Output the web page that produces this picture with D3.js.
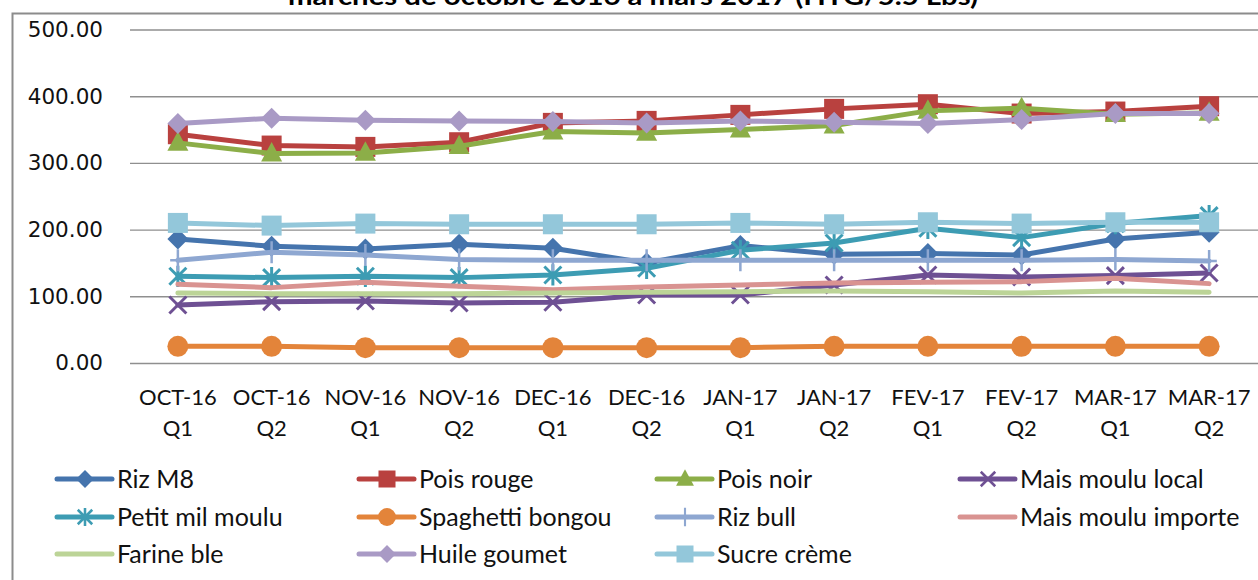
<!DOCTYPE html>
<html>
<head>
<meta charset="utf-8">
<script src="https://cdn.jsdelivr.net/npm/d3@7"></script>
<style>
  body { margin: 0; background: #fff; }
  svg { display: block; }
</style>
</head>
<body>
<svg id="chart" width="1258" height="580"></svg>
<script>
// categories (two-line labels)
const periods = ["OCT-16", "OCT-16", "NOV-16", "NOV-16", "DEC-16", "DEC-16", "JAN-17", "JAN-17", "FEV-17", "FEV-17", "MAR-17", "MAR-17"];
const quinzaines = ["Q1", "Q2", "Q1", "Q2", "Q1", "Q2", "Q1", "Q2", "Q1", "Q2", "Q1", "Q2"];
const yTicks = [0, 100, 200, 300, 400, 500];

const seriesNames = ["Riz M8", "Pois rouge", "Pois noir", "Mais moulu local", "Petit mil moulu", "Spaghetti bongou",
  "Riz bull", "Mais moulu importe", "Farine ble", "Huile goumet", "Sucre crème"];

const rizM8 = [186, 175, 171, 178, 172, 150, 176, 163, 164, 162, 186, 196];
const poisRouge = [343, 326, 324, 331, 360, 363, 372, 381, 388, 374, 377, 385];
const poisNoir = [330, 314, 315, 325, 347, 345, 350, 356, 378, 382, 373, 375];
const maisLocal = [87, 92, 93, 90, 91, 102, 102, 117, 132, 129, 131, 135];
const petitMil = [130, 128, 130, 128, 132, 142, 169, 180, 202, 188, 209, 221];
const spaghetti = [25, 25, 23, 23, 23, 23, 23, 25, 25, 25, 25, 25];
const rizBull = [154, 166, 162, 155, 154, 154, 154, 154, 154, 154, 155, 153];
const maisImporte = [118, 113, 121, 115, 110, 114, 117, 120, 121, 122, 127, 119];
const farineBle = [105, 104, 104, 104, 105, 106, 107, 108, 107, 105, 108, 106];
const huile = [359, 367, 364, 363, 362, 360, 363, 361, 359, 365, 374, 374];
const sucre = [210, 206, 209, 208, 208, 208, 210, 208, 211, 209, 211, 211];

const seriesValues = [rizM8, poisRouge, poisNoir, maisLocal, petitMil, spaghetti, rizBull, maisImporte, farineBle, huile, sucre];
const colors = ["#4574ad", "#b9413f", "#8cae48", "#6e5093", "#3d9cb3", "#e3843a", "#8ea7d1", "#d99391", "#bcd497", "#a99ac5", "#93c7da"];
const markers = ["diamond", "square", "triangle", "x", "star", "circle", "plus", "none", "none", "diamond", "square"];

const svg = d3.select("#chart");

const x = d3.scalePoint()
    .domain(d3.range(periods.length))
    .range([131, 1256])
    .padding(0.5);

const y = d3.scaleLinear()
    .domain([0, 500])
    .range([363, 29.5]);

// frame
svg.append("path")
    .attr("d", "M12.5,580 V13.5 H1258")
    .attr("fill", "none")
    .attr("stroke", "#8c8c8c")
    .attr("stroke-width", 2);

// title, cut at the top of the picture
svg.append("text")
    .attr("x", 633)
    .attr("y", 5)
    .attr("text-anchor", "middle")
    .attr("font-family", "Lato, sans-serif")
    .attr("font-weight", "bold")
    .attr("font-size", 24)
    .attr("textLength", 690)
    .attr("lengthAdjust", "spacingAndGlyphs")
    .text("marchés de octobre 2016 à mars 2017 (HTG/5.5 Lbs)");

// gridlines
const grid = svg.append("g")
    .attr("transform", "translate(130,0)")
    .call(d3.axisLeft(y).tickValues(yTicks).tickSize(-(1258 - 130)).tickFormat(""));
grid.select(".domain").remove();
grid.selectAll("line").attr("stroke", "#8f8f8f").attr("stroke-width", 1.4);

// y axis labels
const yAxis = svg.append("g")
    .attr("transform", "translate(103,0)")
    .call(d3.axisLeft(y).tickValues(yTicks).tickSize(0).tickPadding(0).tickFormat(d3.format(".2f")));
yAxis.select(".domain").remove();
yAxis.selectAll("text")
    .attr("font-family", "'DejaVu Sans', sans-serif")
    .attr("font-size", 21.5)
    .attr("fill", "#111");

// x axis labels
const xLab = svg.append("g")
    .attr("font-family", "Lato, sans-serif")
    .attr("font-size", 22)
    .attr("fill", "#111")
    .attr("text-anchor", "middle");
xLab.selectAll("text.p")
    .data(periods)
    .join("text")
    .attr("class", "p")
    .attr("x", (d, i) => x(i))
    .attr("y", 405)
    .text(d => d);
xLab.selectAll("text.q")
    .data(quinzaines)
    .join("text")
    .attr("class", "q")
    .attr("x", (d, i) => x(i))
    .attr("y", 436)
    .text(d => d);

// draws a marker into g, k = scale factor
function drawMarker(g, type, color, k) {
  if (type === "diamond") {
    const s = 10.5 * k;
    g.append("path").attr("d", `M0,${-s}L${s},0L0,${s}L${-s},0Z`).attr("fill", color);
  } else if (type === "square") {
    const s = 10 * k;
    g.append("rect").attr("x", -s).attr("y", -s).attr("width", 2 * s).attr("height", 2 * s).attr("fill", color);
  } else if (type === "triangle") {
    const s = 10.5 * k;
    g.append("path").attr("d", `M0,${-s * 1.1}L${s},${s * 0.75}L${-s},${s * 0.75}Z`).attr("fill", color);
  } else if (type === "circle") {
    g.append("circle").attr("r", 10.5 * k).attr("fill", color);
  } else if (type === "x" || type === "star") {
    const s = 8.5 * k;
    g.append("path").attr("d", `M${-s},${-s}L${s},${s}M${-s},${s}L${s},${-s}` + (type === "star" ? `M0,${-s * 1.25}V${s * 1.25}` : ""))
      .attr("stroke", color).attr("stroke-width", 3 * k).attr("fill", "none");
  } else if (type === "plus") {
    const s = 11 * k;
    g.append("path").attr("d", `M0,${-s}V${s}M${-s * 0.7},0H${s * 0.7}`)
      .attr("stroke", color).attr("stroke-width", 2.5 * k).attr("fill", "none");
  }
}

const line = d3.line()
    .x((d, i) => x(i))
    .y(d => y(d));

// series, drawn in order so later ones sit on top
seriesValues.forEach((vals, si) => {
  const g = svg.append("g").attr("class", "series");
  g.append("path")
      .datum(vals)
      .attr("d", line)
      .attr("fill", "none")
      .attr("stroke", colors[si])
      .attr("stroke-width", 5)
      .attr("stroke-linejoin", "round")
      .attr("stroke-linecap", "round");
  vals.forEach((v, i) => {
    const m = g.append("g").attr("transform", `translate(${x(i)},${y(v)})`);
    drawMarker(m, markers[si], colors[si], 1);
  });
});

// legend, 4 columns
const legCols = [57, 359, 657, 960];
const legRows = [479, 517, 554];
const legend = svg.append("g");
seriesNames.forEach((name, si) => {
  const lx = legCols[si % 4], ly = legRows[Math.floor(si / 4)];
  const item = legend.append("g").attr("transform", `translate(${lx},${ly})`);
  item.append("line")
      .attr("x1", 0).attr("x2", 55)
      .attr("stroke", colors[si])
      .attr("stroke-width", 5)
      .attr("stroke-linecap", "round");
  const m = item.append("g").attr("transform", "translate(28,0)");
  drawMarker(m, markers[si], colors[si], 0.85);
  item.append("text")
      .attr("x", 60)
      .attr("y", 8.5)
      .attr("font-family", "Lato, sans-serif")
      .attr("font-size", 25)
      .attr("fill", "#111")
      .text(name);
});
</script>
</body>
</html>
